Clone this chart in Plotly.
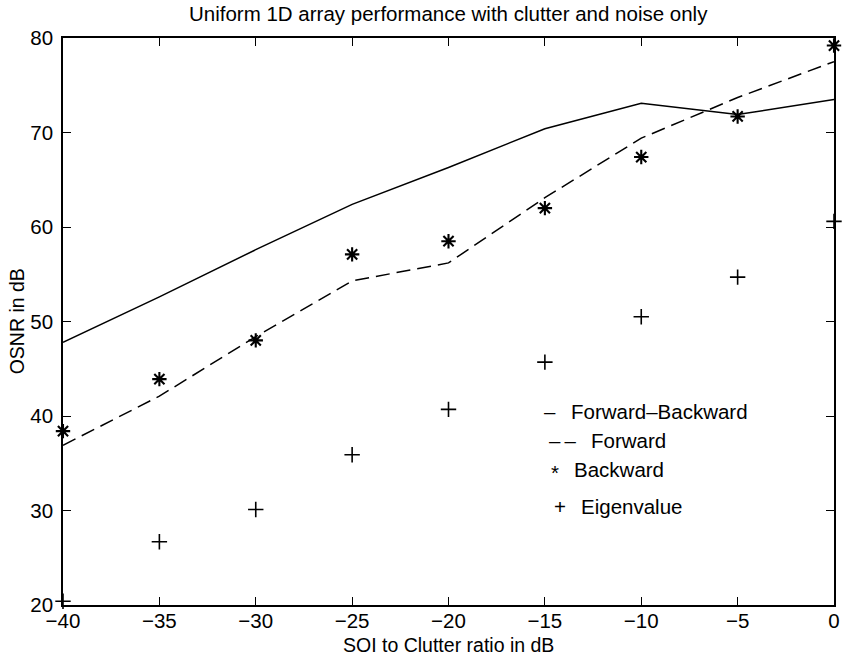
import plotly.graph_objects as go

snr = [-40, -35, -30, -25, -20, -15, -10, -5, 0]
fwd_bwd = [47.8, 52.6, 57.6, 62.4, 66.3, 70.4, 73.1, 71.9, 73.5]
forward = [36.9, 42.1, 48.4, 54.3, 56.2, 63.1, 69.4, 73.7, 77.5]
backward = [38.4, 43.9, 48.0, 57.1, 58.5, 62.0, 67.4, 71.7, 79.2]
eigen = [20.4, 26.7, 30.1, 35.9, 40.7, 45.7, 50.5, 54.7, 60.6]

title = "Uniform 1D array performance with clutter and noise only"
xlabel = "SOI to Clutter ratio in dB"
ylabel = "OSNR in dB"
legend_labels = ["Forward\u2013Backward", "Forward", "Backward", "Eigenvalue"]
legend_syms = ["\u2013", "\u2013\u2009\u2013", "*", "+"]

FONT = "Liberation Sans, Arial, Helvetica, sans-serif"
FS = 20.5
W, H = 847, 656
L, R, T, B = 63, 7, 38, 51
pw, ph = W - L - R, H - T - B

fig = go.Figure()
fig.add_trace(go.Scatter(x=snr, y=fwd_bwd, mode="lines",
                         line=dict(color="black", width=1.5), showlegend=False))
fig.add_trace(go.Scatter(x=snr, y=forward, mode="lines",
                         line=dict(color="black", width=1.5, dash="14px,7px"), showlegend=False))
fig.add_trace(go.Scatter(x=snr, y=backward, mode="markers", cliponaxis=False,
                         marker=dict(symbol="asterisk-open", size=12, color="black",
                                     line=dict(color="black", width=2.1)), showlegend=False))
fig.add_trace(go.Scatter(x=snr, y=eigen, mode="markers", cliponaxis=False,
                         marker=dict(symbol="cross-thin-open", size=11, color="black",
                                     line=dict(color="black", width=1.6)), showlegend=False))

def px2paper(px, py):
    return (px - L) / pw, (H - B - py) / ph

annotations = []
sym_pos = [(554, 411), (567, 440), (559, 472), (564, 506)]
txt_pos = [(573, 411), (593, 440), (576, 469), (583, 506)]
for s, (sx, sy), t, (tx, ty) in zip(legend_syms, sym_pos, legend_labels, txt_pos):
    ax_, ay_ = px2paper(sx, sy)
    annotations.append(dict(text=s, x=ax_, y=ay_, xref="paper", yref="paper",
                            xanchor="center", yanchor="middle", showarrow=False,
                            font=dict(family=FONT, size=FS, color="black")))
    bx, by = px2paper(tx, ty)
    annotations.append(dict(text=t, x=bx, y=by, xref="paper", yref="paper",
                            xanchor="left", yanchor="middle", showarrow=False,
                            font=dict(family=FONT, size=FS, color="black")))

xa, ya = px2paper(452, 645)
annotations.append(dict(text=xlabel, x=xa, y=ya, xref="paper", yref="paper",
                        xanchor="center", yanchor="middle", showarrow=False,
                        font=dict(family=FONT, size=19.5, color="black")))
xa, ya = px2paper(17, 321)
annotations.append(dict(text=ylabel, x=xa, y=ya, xref="paper", yref="paper",
                        xanchor="center", yanchor="middle", showarrow=False, textangle=-90,
                        font=dict(family=FONT, size=19.5, color="black")))
xa, ya = px2paper(452, 13)
annotations.append(dict(text=title, x=xa, y=ya, xref="paper", yref="paper",
                        xanchor="center", yanchor="middle", showarrow=False,
                        font=dict(family=FONT, size=FS, color="black")))

axis_common = dict(showgrid=False, zeroline=False, showline=True, linecolor="black",
                   linewidth=1.5, mirror="ticks", ticks="inside", ticklen=8,
                   tickcolor="black", tickwidth=1.3,
                   tickfont=dict(family=FONT, size=FS, color="black"))

fig.update_layout(
    width=W, height=H,
    margin=dict(l=L, r=R, t=T, b=B, pad=0),
    paper_bgcolor="white", plot_bgcolor="white",
    xaxis=dict(range=[-40, 0], tickmode="array", tickvals=snr,
               ticktext=[("\u2212" + str(-v)) if v < 0 else str(v) for v in snr],
               ticklabelstandoff=-3, **axis_common),
    yaxis=dict(range=[20, 80], tickmode="array", tickvals=[20, 30, 40, 50, 60, 70, 80],
               ticklabelstandoff=4, **axis_common),
    annotations=annotations,
    showlegend=False,
)

fig.write_html("out.html")
